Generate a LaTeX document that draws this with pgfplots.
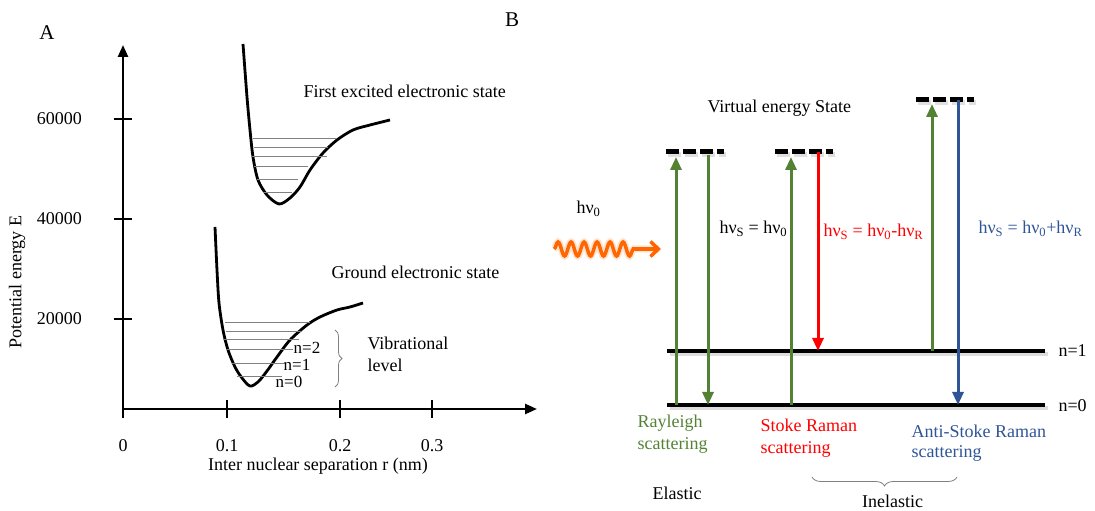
\documentclass[border=0pt]{standalone}
\usepackage{fontspec}
\setmainfont{Liberation Serif}
\usepackage{pgfplots}
\pgfplotsset{compat=1.18}
\usetikzlibrary{arrows.meta,decorations.pathmorphing,decorations.pathreplacing}
\definecolor{rgreen}{RGB}{84,130,53}
\definecolor{rblue}{RGB}{47,85,151}
\definecolor{rred}{RGB}{255,0,0}
\definecolor{rorange}{RGB}{255,102,0}
\begin{document}
\begin{tikzpicture}[font=\fontsize{18}{22}\selectfont]
\path[use as bounding box] (0,0) rectangle (1095pt,511pt);
% ---------------- Panel A ----------------
\begin{axis}[
  at={(123pt,102pt)}, anchor=south west,
  scale only axis, width=414pt, height=364pt,
  xmin=0, xmax=0.414, ymin=2000, ymax=74800,
  axis lines=left, clip=false,
  scaled y ticks=false, scaled x ticks=false,
  axis line style={line width=2.5pt, -{Triangle[length=12pt,width=10pt]}},
  major tick length=18pt, tick align=center,
  tick style={line width=2pt, black},
  xtick={0,0.104,0.217,0.309}, xticklabels={0,0.1,0.2,0.3},
  ytick={20000,40000,60000}, yticklabels={20000,40000,60000},
  xticklabel style={anchor=center, yshift=-28pt, inner sep=0pt},
  yticklabel style={anchor=east, xshift=-32pt, inner sep=0pt},
  xlabel={Inter nuclear separation r (nm)},
  ylabel={Potential energy E},
  xlabel style={at={(axis description cs:0.471,-0.157)}, anchor=center},
  ylabel style={at={(axis description cs:-0.256,0.349)}, anchor=center},
]
% excited state potential
\addplot[black, line width=2.8pt, smooth, tension=0.5] coordinates {
(0.120,75000) (0.124,64400) (0.127,57800) (0.130,52400) (0.135,47800)
(0.144,44800) (0.156,43000) (0.167,44200) (0.177,46400) (0.187,49800)
(0.200,53200) (0.214,55800) (0.230,57800) (0.247,58800) (0.267,59800)};
% ground state potential
\addplot[black, line width=2.8pt, smooth, tension=0.5] coordinates {
(0.092,38400) (0.094,29800) (0.096,23200) (0.100,17800) (0.105,13800)
(0.112,10400) (0.119,8200) (0.127,6600) (0.135,7400) (0.144,9600)
(0.154,12400) (0.167,15800) (0.184,18800) (0.197,20400) (0.214,21800)
(0.227,22400) (0.240,23200)};
% vibrational levels, excited
\addplot[gray, line width=0.9pt, unbounded coords=jump] coordinates {
(0.130,56200) (0.214,56200) (nan,nan)
(0.131,54400) (0.205,54400) (nan,nan)
(0.128,52600) (0.204,52600) (nan,nan)
(0.131,50600) (0.185,50600) (nan,nan)
(0.134,48000) (0.175,48000) (nan,nan)
(0.140,45400) (0.169,45400)};
% vibrational levels, ground
\addplot[gray, line width=0.9pt, unbounded coords=jump] coordinates {
(0.102,19400) (0.187,19400) (nan,nan)
(0.103,17600) (0.179,17600) (nan,nan)
(0.100,16000) (0.176,16000) (nan,nan)
(0.103,14000) (0.170,14000) (nan,nan)
(0.109,11200) (0.163,11200) (nan,nan)
(0.114,8600) (0.159,8600)};
% brace
\addplot[gray, line width=0.8pt, decorate, decoration={brace, amplitude=7pt}]
  coordinates {(0.212,17800) (0.212,6400)};
\node[anchor=west] at (axis cs:0.177,65600) {First excited electronic state};
\node[anchor=west] at (axis cs:0.205,29400) {Ground electronic state};
\node[anchor=west] at (axis cs:0.241,15200) {Vibrational};
\node[anchor=west] at (axis cs:0.241,10800) {level};
\node[inner sep=0pt, font=\fontsize{17}{18}\selectfont] at (axis cs:0.184,14200) {n=2};
\node[inner sep=0pt, font=\fontsize{17}{18}\selectfont] at (axis cs:0.174,10800) {n=1};
\node[inner sep=0pt, font=\fontsize{17}{18}\selectfont] at (axis cs:0.166,7400) {n=0};
\end{axis}
% ---------------- Panel B ----------------
\begin{axis}[
  at={(0pt,0pt)}, anchor=south west,
  scale only axis, width=1095pt, height=511pt,
  xmin=0, xmax=1095, ymin=0, ymax=511,
  hide axis, clip=false,
]
% level shadows
\addplot[gray!45, line width=4pt, opacity=0.6] coordinates {(670,157) (1048,157)};
\addplot[gray!45, line width=4pt, opacity=0.6] coordinates {(670,103) (1048,103)};
% levels
\addplot[black, line width=4pt] coordinates {(667,160) (1045,160)};
\addplot[black, line width=4pt] coordinates {(667,106) (1045,106)};
% virtual levels
\addplot[gray!40, line width=5pt, dash pattern=on 13pt off 4pt, opacity=0.6] coordinates {(668,356) (726,356)};
\addplot[gray!40, line width=5pt, dash pattern=on 13pt off 4pt, opacity=0.6] coordinates {(777,356) (835,356)};
\addplot[gray!40, line width=5pt, dash pattern=on 13pt off 4pt, opacity=0.6] coordinates {(918,408) (976,408)};
\addplot[black, line width=5pt, dash pattern=on 13pt off 4pt] coordinates {(666,359) (724,359)};
\addplot[black, line width=5pt, dash pattern=on 13pt off 4pt] coordinates {(775,359) (833,359)};
\addplot[black, line width=5pt, dash pattern=on 13pt off 4pt] coordinates {(916,411) (974,411)};
% arrows
\addplot[rgreen, line width=3pt, -{Triangle[length=13pt,width=11pt]}] coordinates {(676,106) (676,354)};
\addplot[rgreen, line width=3pt, -{Triangle[length=13pt,width=11pt]}] coordinates {(708,356) (708,106)};
\addplot[rgreen, line width=3pt, -{Triangle[length=13pt,width=11pt]}] coordinates {(791,106) (791,354)};
\addplot[rred, line width=3pt, -{Triangle[length=13pt,width=11pt]}] coordinates {(818,359) (818,160)};
\addplot[rgreen, line width=3pt, -{Triangle[length=13pt,width=11pt]}] coordinates {(932,160) (932,407)};
\addplot[rblue, line width=3pt, -{Triangle[length=13pt,width=11pt]}] coordinates {(958,411) (958,106)};
% incident photon
\addplot[rorange!60, line width=7pt, opacity=0.3, decorate, decoration={snake, segment length=13pt, amplitude=7pt, post length=24pt}] coordinates {(554,262) (658,262)};
\addplot[rorange, line width=3.5pt, decorate, decoration={snake, segment length=13pt, amplitude=7pt, post length=24pt}] coordinates {(554,262) (658,262)};
\addplot[rorange, line width=3.5pt, -{Straight Barb[length=8pt,width=15pt]}] coordinates {(632,262) (661,262)};
% brace
\addplot[gray, line width=0.8pt, decorate, decoration={brace, amplitude=9pt}] coordinates {(957,34) (812,34)};
% texts
\node[font=\fontsize{21}{24}\selectfont] at (axis cs:47,478) {A};
\node[font=\fontsize{21}{24}\selectfont] at (axis cs:512,491) {B};
\node[anchor=west] at (axis cs:704,403) {Virtual energy State};
\node[anchor=west] at (axis cs:573,302) {hν\textsubscript{0}};
\node[anchor=west] at (axis cs:716,282) {hν\textsubscript{S} = hν\textsubscript{0}};
\node[anchor=west, text=rred] at (axis cs:820,279) {hν\textsubscript{S} = hν\textsubscript{0}-hν\textsubscript{R}};
\node[anchor=west, text=rblue] at (axis cs:975,282) {hν\textsubscript{S} = hν\textsubscript{0}+hν\textsubscript{R}};
\node[anchor=west, text=rgreen] at (axis cs:634,88) {Rayleigh};
\node[anchor=west, text=rgreen] at (axis cs:634,66) {scattering};
\node[anchor=west, text=rred] at (axis cs:757,86) {Stoke Raman};
\node[anchor=west, text=rred] at (axis cs:757,62) {scattering};
\node[anchor=west, text=rblue] at (axis cs:908,80) {Anti-Stoke Raman};
\node[anchor=west, text=rblue] at (axis cs:908,58) {scattering};
\node[anchor=west] at (axis cs:649,18) {Elastic};
\node[anchor=west, inner sep=0pt] at (axis cs:862,10) {Inelastic};
\node[anchor=west] at (axis cs:1055,160) {n=1};
\node[anchor=west] at (axis cs:1055,105) {n=0};
\end{axis}
\end{tikzpicture}
\end{document}
